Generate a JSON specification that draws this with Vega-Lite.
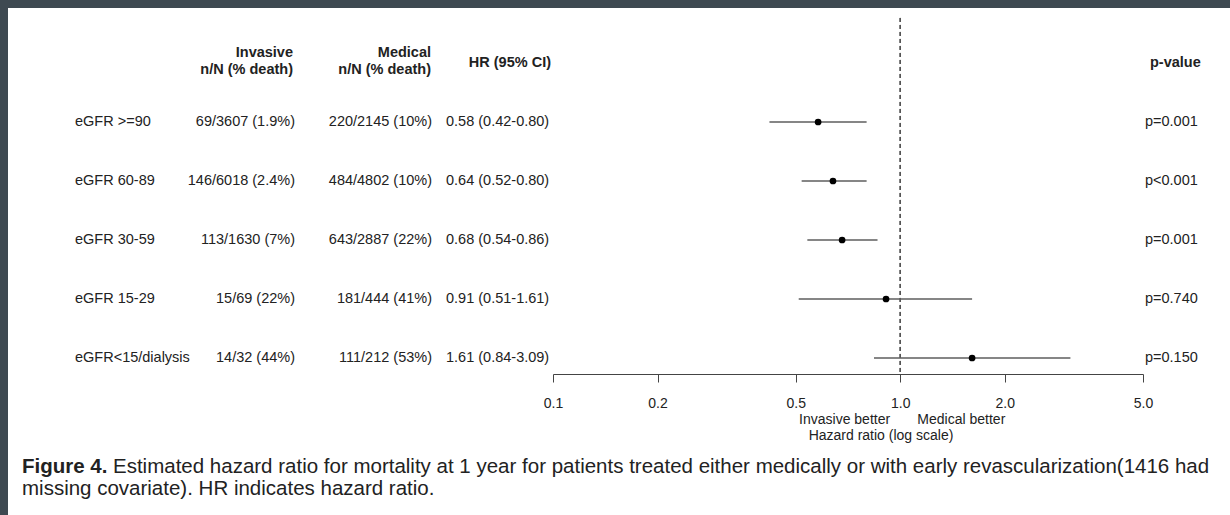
{
  "$schema": "https://vega.github.io/schema/vega-lite/v6.json",
  "width": 1222,
  "height": 507,
  "autosize": {"type": "none"},
  "padding": {"left": 8, "top": 8, "right": 0, "bottom": 0},
  "background": "#3e4951",
  "config": {
    "view": {"fill": "white", "stroke": null},
    "font": "Liberation Sans",
    "text": {"font": "Liberation Sans", "fontSize": 14.5, "color": "#222222", "baseline": "middle"}
  },
  "data": {
    "values": [
      {"row": 1, "group": "eGFR >=90", "inv": "69/3607 (1.9%)", "med": "220/2145 (10%)", "hrci": "0.58 (0.42-0.80)", "p": "p=0.001", "hr": 0.58, "lo": 0.42, "hi": 0.80},
      {"row": 2, "group": "eGFR 60-89", "inv": "146/6018 (2.4%)", "med": "484/4802 (10%)", "hrci": "0.64 (0.52-0.80)", "p": "p<0.001", "hr": 0.64, "lo": 0.52, "hi": 0.80},
      {"row": 3, "group": "eGFR 30-59", "inv": "113/1630 (7%)", "med": "643/2887 (22%)", "hrci": "0.68 (0.54-0.86)", "p": "p=0.001", "hr": 0.68, "lo": 0.54, "hi": 0.86},
      {"row": 4, "group": "eGFR 15-29", "inv": "15/69 (22%)", "med": "181/444 (41%)", "hrci": "0.91 (0.51-1.61)", "p": "p=0.740", "hr": 0.91, "lo": 0.51, "hi": 1.61},
      {"row": 5, "group": "eGFR<15/dialysis", "inv": "14/32 (44%)", "med": "111/212 (53%)", "hrci": "1.61 (0.84-3.09)", "p": "p=0.150", "hr": 1.61, "lo": 0.84, "hi": 3.09}
    ]
  },
  "layer": [
    {
      "transform": [{"fold": ["group", "hrci"], "as": ["col", "txt"]}],
      "mark": {"type": "text", "align": "left"},
      "encoding": {
        "x": {"field": "col", "type": "nominal", "scale": {"type": "point", "domain": ["group", "hrci"], "range": [67, 438], "padding": 0}, "axis": null},
        "y": {"field": "row", "type": "quantitative", "scale": {"domain": [-0.9322, 7.661], "reverse": true, "nice": false, "zero": false}, "axis": null},
        "text": {"field": "txt"}
      }
    },
    {
      "transform": [{"fold": ["inv", "med"], "as": ["col", "txt"]}],
      "mark": {"type": "text", "align": "right"},
      "encoding": {
        "x": {"field": "col", "type": "nominal", "scale": {"type": "point", "domain": ["inv", "med"], "range": [287, 424], "padding": 0}, "axis": null},
        "y": {"field": "row", "type": "quantitative"},
        "text": {"field": "txt"}
      }
    },
    {
      "transform": [{"fold": ["p"], "as": ["col", "txt"]}],
      "mark": {"type": "text", "align": "left"},
      "encoding": {
        "x": {"field": "col", "type": "nominal", "scale": {"type": "point", "domain": ["p"], "range": [1137, 1137], "padding": 0}, "axis": null},
        "y": {"field": "row", "type": "quantitative"},
        "text": {"field": "txt"}
      }
    },
    {
      "data": {"values": [{"col": "inv", "label": "Invasive\nn/N (% death)"}, {"col": "med", "label": "Medical\nn/N (% death)"}]},
      "mark": {"type": "text", "align": "right", "fontWeight": "bold", "lineBreak": "\n", "lineHeight": 17},
      "encoding": {
        "x": {"field": "col", "type": "nominal", "scale": {"type": "point", "domain": ["inv", "med"], "range": [285, 423], "padding": 0}, "axis": null},
        "y": {"datum": -0.169, "type": "quantitative"},
        "text": {"field": "label"}
      }
    },
    {
      "data": {"values": [{"col": "hrci", "label": "HR (95% CI)"}]},
      "mark": {"type": "text", "align": "right", "fontWeight": "bold"},
      "encoding": {
        "x": {"field": "col", "type": "nominal", "scale": {"type": "point", "domain": ["hrci"], "range": [543, 543], "padding": 0}, "axis": null},
        "y": {"datum": 0, "type": "quantitative"},
        "text": {"field": "label"}
      }
    },
    {
      "data": {"values": [{"col": "p", "label": "p-value"}]},
      "mark": {"type": "text", "align": "left", "fontWeight": "bold"},
      "encoding": {
        "x": {"field": "col", "type": "nominal", "scale": {"type": "point", "domain": ["p"], "range": [1142, 1142], "padding": 0}, "axis": null},
        "y": {"datum": 0, "type": "quantitative"},
        "text": {"field": "label"}
      }
    },
    {
      "mark": {"type": "rule", "color": "#555555", "strokeDash": [4, 3], "strokeWidth": 1},
      "encoding": {
        "x": {"datum": 1, "type": "quantitative", "scale": {"type": "log", "domain": [0.1, 5], "range": [545, 1135], "nice": false, "zero": false}, "axis": null},
        "y": {"datum": -0.763, "type": "quantitative"},
        "y2": {"datum": 5.271}
      }
    },
    {
      "mark": {"type": "rule", "color": "#5e5e5e", "strokeWidth": 1.6},
      "encoding": {
        "x": {"field": "lo", "type": "quantitative", "scale": {"type": "log", "domain": [0.1, 5], "range": [545, 1135], "nice": false, "zero": false},
          "axis": {"values": [0.1, 0.2, 0.5, 1, 2, 5], "format": ".1f", "offset": -141, "grid": false, "title": null, "tickSize": 8, "tickColor": "#444444", "domainColor": "#444444", "labelFontSize": 14, "labelColor": "#222222", "labelFont": "Liberation Sans", "labelPadding": 14, "labelFlush": false, "labelOverlap": false}},
        "x2": {"field": "hi"},
        "y": {"field": "row", "type": "quantitative"}
      }
    },
    {
      "mark": {"type": "point", "filled": true, "color": "#000000", "size": 45, "opacity": 1},
      "encoding": {
        "x": {"field": "hr", "type": "quantitative", "scale": {"type": "log", "domain": [0.1, 5], "range": [545, 1135], "nice": false, "zero": false}, "axis": null},
        "y": {"field": "row", "type": "quantitative"}
      }
    },
    {
      "data": {"values": [{"hrx": 0.935, "label": "Invasive better"}]},
      "mark": {"type": "text", "align": "right", "fontSize": 14},
      "encoding": {
        "x": {"field": "hrx", "type": "quantitative", "scale": {"type": "log", "domain": [0.1, 5], "range": [545, 1135], "nice": false, "zero": false}, "axis": null},
        "y": {"datum": 6.051, "type": "quantitative"},
        "text": {"field": "label"}
      }
    },
    {
      "data": {"values": [{"hrx": 1.12, "label": "Medical better"}]},
      "mark": {"type": "text", "align": "left", "fontSize": 14},
      "encoding": {
        "x": {"field": "hrx", "type": "quantitative", "scale": {"type": "log", "domain": [0.1, 5], "range": [545, 1135], "nice": false, "zero": false}, "axis": null},
        "y": {"datum": 6.051, "type": "quantitative"},
        "text": {"field": "label"}
      }
    },
    {
      "data": {"values": [{"hrx": 0.88, "label": "Hazard ratio (log scale)"}]},
      "mark": {"type": "text", "align": "center", "fontSize": 14},
      "encoding": {
        "x": {"field": "hrx", "type": "quantitative", "scale": {"type": "log", "domain": [0.1, 5], "range": [545, 1135], "nice": false, "zero": false}, "axis": null},
        "y": {"datum": 6.322, "type": "quantitative"},
        "text": {"field": "label"}
      }
    },
    {
      "data": {"values": [{"col": "caption", "label": "Figure 4."}]},
      "mark": {"type": "text", "align": "left", "fontSize": 20.5, "fontWeight": "bold", "color": "#222222"},
      "encoding": {
        "x": {"field": "col", "type": "nominal", "scale": {"type": "point", "domain": ["caption"], "range": [14, 14], "padding": 0}, "axis": null},
        "y": {"datum": 6.847, "type": "quantitative"},
        "text": {"field": "label"}
      }
    },
    {
      "data": {"values": [{"col": "caption", "label": "Estimated hazard ratio for mortality at 1 year for patients treated either medically or with early revascularization(1416 had"}]},
      "mark": {"type": "text", "align": "left", "fontSize": 20.5, "color": "#222222", "dx": 91},
      "encoding": {
        "x": {"field": "col", "type": "nominal", "scale": {"type": "point", "domain": ["caption"], "range": [14, 14], "padding": 0}, "axis": null},
        "y": {"datum": 6.847, "type": "quantitative"},
        "text": {"field": "label"}
      }
    },
    {
      "data": {"values": [{"col": "caption", "label": "missing covariate). HR indicates hazard ratio."}]},
      "mark": {"type": "text", "align": "left", "fontSize": 20.5, "color": "#222222"},
      "encoding": {
        "x": {"field": "col", "type": "nominal", "scale": {"type": "point", "domain": ["caption"], "range": [14, 14], "padding": 0}, "axis": null},
        "y": {"datum": 7.22, "type": "quantitative"},
        "text": {"field": "label"}
      }
    }
  ],
  "resolve": {"scale": {"x": "independent"}, "axis": {"x": "independent"}}
}
